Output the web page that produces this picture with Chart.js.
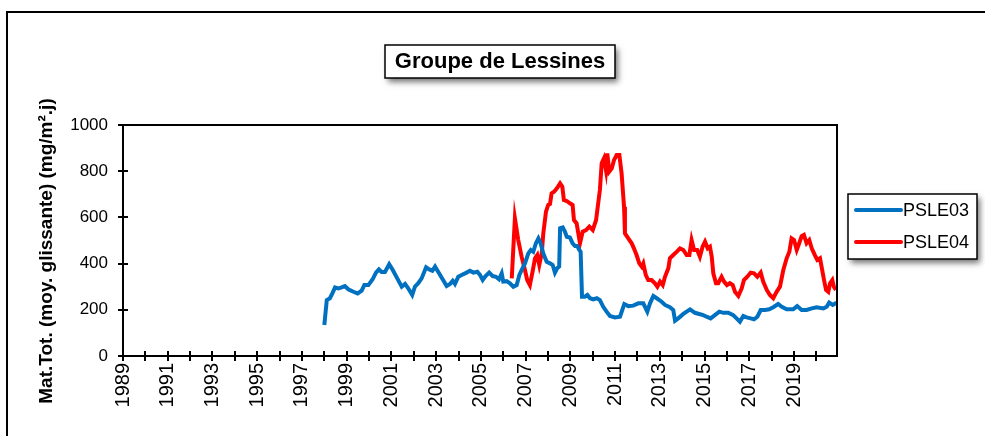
<!DOCTYPE html>
<html>
<head>
<meta charset="utf-8">
<title>Groupe de Lessines</title>
<script src="https://cdn.jsdelivr.net/npm/chart.js@4.4.0/dist/chart.umd.min.js"></script>
<style>
  html, body { margin: 0; padding: 0; background: #fff; }
</style>
</head>
<body>
<canvas id="chart" width="985" height="436"></canvas>
<script>
// Moyennes glissantes des retombées (mg/m².j), dates en années décimales
const pslE03Dates = [
  1998.00, 1998.11, 1998.25, 1998.36, 1998.48, 1998.62, 1998.78, 1998.92, 1999.07, 1999.30,
  1999.49, 1999.67, 1999.79, 1999.97, 2000.16, 2000.31, 2000.44, 2000.56, 2000.71, 2000.90,
  2001.06, 2001.26, 2001.46, 2001.61, 2001.75, 2001.93, 2002.05, 2002.20, 2002.35, 2002.55,
  2002.69, 2002.83, 2002.95, 2003.13, 2003.29, 2003.47, 2003.62, 2003.74, 2003.84, 2003.99,
  2004.14, 2004.36, 2004.51, 2004.66, 2004.84, 2004.96, 2005.08, 2005.21, 2005.37, 2005.53,
  2005.67, 2005.81, 2005.93, 2006.00, 2006.15, 2006.30, 2006.45, 2006.60, 2006.72, 2006.82,
  2006.97, 2007.12, 2007.23, 2007.34, 2007.46, 2007.57, 2007.67, 2007.79, 2007.94, 2008.09,
  2008.21, 2008.31, 2008.41, 2008.50, 2008.54, 2008.66, 2008.76, 2008.84, 2008.98, 2009.10,
  2009.21, 2009.31, 2009.40, 2009.46, 2009.52, 2009.65, 2009.76, 2009.88, 2010.02, 2010.18,
  2010.32, 2010.47, 2010.62, 2010.77, 2010.99, 2011.22, 2011.41, 2011.59, 2011.81, 2012.04,
  2012.26, 2012.44, 2012.56, 2012.71, 2012.86, 2013.08, 2013.23, 2013.45, 2013.60, 2013.68,
  2013.82, 2014.05, 2014.35, 2014.57, 2014.76, 2014.94, 2015.09, 2015.27, 2015.46, 2015.66,
  2015.84, 2016.06, 2016.28, 2016.43, 2016.58, 2016.73, 2016.88, 2017.06, 2017.21, 2017.36,
  2017.51, 2017.70, 2017.89, 2018.07, 2018.29, 2018.45, 2018.67, 2018.96, 2019.14, 2019.34,
  2019.56, 2019.79, 2020.01, 2020.31, 2020.46, 2020.57, 2020.73, 2020.90
];
const pslE03Values = [
  134, 242, 250, 271, 297, 293, 297, 303, 289, 278,
  271, 283, 307, 307, 332, 361, 375, 364, 364, 397,
  372, 336, 300, 312, 293, 264, 300, 315, 336, 384,
  375, 369, 387, 358, 332, 303, 312, 326, 312, 343,
  351, 361, 369, 361, 365, 351, 329, 346, 361, 346,
  343, 332, 358, 322, 324, 315, 300, 307, 351, 372,
  401, 444, 459, 451, 488, 509, 488, 444, 408, 401,
  394, 361, 380, 387, 553, 557, 538, 516, 513, 488,
  476, 476, 459, 451, 257, 257, 264, 250, 245, 250,
  242, 213, 192, 173, 167, 170, 225, 216, 218, 228,
  228, 192, 228, 260, 250, 235, 221, 211, 199, 153,
  163, 182, 202, 187, 182, 177, 170, 163, 177, 192,
  187, 187, 177, 163, 148, 173, 167, 163, 159, 170,
  199, 199, 202, 211, 225, 213, 202, 202, 216, 199,
  199, 206, 211, 206, 213, 231, 221, 231
];

const pslE04Dates = [
  2006.38, 2006.52, 2006.67, 2006.82, 2006.97, 2007.07, 2007.19, 2007.31, 2007.42, 2007.52,
  2007.61, 2007.72, 2007.79, 2007.91, 2008.01, 2008.09, 2008.16, 2008.27, 2008.39, 2008.54,
  2008.64, 2008.71, 2008.84, 2008.98, 2009.10, 2009.16, 2009.28, 2009.43, 2009.55, 2009.70,
  2009.85, 2010.00, 2010.15, 2010.32, 2010.40, 2010.50, 2010.59, 2010.65, 2010.74, 2010.85,
  2010.95, 2011.07, 2011.19, 2011.29, 2011.40, 2011.44, 2011.59, 2011.74, 2011.84, 2011.96,
  2012.08, 2012.19, 2012.26, 2012.37, 2012.48, 2012.63, 2012.78, 2012.89, 2013.01, 2013.13,
  2013.23, 2013.38, 2013.45, 2013.60, 2013.75, 2013.90, 2014.05, 2014.20, 2014.32, 2014.42,
  2014.53, 2014.67, 2014.79, 2014.91, 2015.02, 2015.14, 2015.24, 2015.32, 2015.39, 2015.51,
  2015.61, 2015.76, 2015.87, 2016.00, 2016.13, 2016.26, 2016.36, 2016.51, 2016.66, 2016.76,
  2016.91, 2017.06, 2017.21, 2017.36, 2017.51, 2017.62, 2017.78, 2017.92, 2018.07, 2018.22,
  2018.37, 2018.52, 2018.67, 2018.79, 2018.89, 2019.00, 2019.12, 2019.23, 2019.34, 2019.44,
  2019.56, 2019.68, 2019.79, 2019.93, 2020.04, 2020.16, 2020.23, 2020.34, 2020.43, 2020.53,
  2020.61, 2020.71, 2020.78, 2020.87
];
const pslE04Values = [
  336, 596, 502, 430, 372, 329, 307, 365, 423, 437,
  394, 444, 531, 625, 654, 658, 704, 711, 725, 747,
  733, 675, 671, 661, 654, 589, 574, 488, 538, 545,
  560, 545, 589, 719, 834, 855, 805, 877, 798, 812,
  848, 870, 870, 791, 646, 531, 509, 488, 466, 437,
  401, 387, 401, 351, 329, 329, 315, 300, 322, 307,
  343, 380, 423, 437, 451, 466, 459, 437, 437, 502,
  459, 459, 430, 473, 495, 466, 473, 430, 358, 315,
  315, 343, 322, 307, 315, 307, 278, 260, 293, 329,
  343, 361, 358, 343, 361, 322, 286, 264, 250, 278,
  300, 372, 423, 451, 509, 502, 459, 488, 519, 524,
  488, 502, 466, 437, 416, 423, 387, 329, 286, 278,
  315, 329, 300, 286
];

const seriesNames = ['PSLE03', 'PSLE04'];
const seriesColors = ['#0070C0', '#FF0000'];
const yTickValues = [0, 200, 400, 600, 800, 1000];
const xFirstYear = 1989;
const xLastYear = 2020.92;

const titleText = 'Groupe de Lessines';
const yAxisTitle = 'Mat.Tot. (moy. glissante) (mg/m².j)';
const FONT = "'Liberation Sans', Arial, sans-serif";

function toPoints(dates, values) {
  return dates.map((d, i) => ({ x: d, y: values[i] }));
}

function shadowBox(ctx, x, y, w, h) {
  ctx.save();
  ctx.shadowColor = 'rgba(0,0,0,0.55)';
  ctx.shadowBlur = 6;
  ctx.shadowOffsetX = 3;
  ctx.shadowOffsetY = 4;
  ctx.fillStyle = '#fff';
  ctx.fillRect(x, y, w, h);
  ctx.restore();
  ctx.save();
  ctx.strokeStyle = '#000';
  ctx.lineWidth = 1.5;
  ctx.strokeRect(x, y, w, h);
  ctx.restore();
}

// cadre, ticks en croix, titre et légende encadrés
const decorations = {
  id: 'decorations',
  afterDraw(chart) {
    const ctx = chart.ctx;
    const area = chart.chartArea;
    const xs = chart.scales.x;
    const ys = chart.scales.y;

    ctx.save();
    ctx.strokeStyle = '#000';
    ctx.lineWidth = 2;
    // cadre extérieur
    ctx.beginPath();
    ctx.moveTo(7, 436);
    ctx.lineTo(7, 12);
    ctx.lineTo(985, 12);
    ctx.stroke();
    // bord de la zone de tracé
    ctx.strokeRect(area.left, area.top, area.right - area.left, area.bottom - area.top);
    // graduations
    ctx.beginPath();
    ys.ticks.forEach(t => {
      const y = Math.round(ys.getPixelForValue(t.value));
      ctx.moveTo(area.left - 5, y);
      ctx.lineTo(area.left + 5, y);
    });
    xs.ticks.forEach(t => {
      if (!Number.isInteger(t.value)) return;
      const x = Math.round(xs.getPixelForValue(t.value));
      ctx.moveTo(x, area.bottom - 5);
      ctx.lineTo(x, area.bottom + 5);
    });
    ctx.stroke();
    ctx.restore();

    // titre de l'axe Y
    ctx.save();
    ctx.translate(47, 251);
    ctx.rotate(-Math.PI / 2);
    ctx.font = 'bold 19px ' + FONT;
    ctx.fillStyle = '#000';
    ctx.textAlign = 'center';
    ctx.textBaseline = 'middle';
    ctx.fillText(yAxisTitle, 0, 0);
    ctx.restore();

    // titre
    shadowBox(ctx, 385, 45, 230, 33);
    ctx.save();
    ctx.font = 'bold 22px ' + FONT;
    ctx.fillStyle = '#000';
    ctx.textAlign = 'center';
    ctx.textBaseline = 'middle';
    ctx.fillText(titleText, 500, 62);
    ctx.restore();

    // légende
    shadowBox(ctx, 848, 194, 129, 65);
    ctx.save();
    ctx.font = '18px ' + FONT;
    ctx.textBaseline = 'middle';
    ctx.lineCap = 'round';
    chart.data.datasets.forEach((ds, i) => {
      const y = 210 + i * 32;
      ctx.strokeStyle = ds.borderColor;
      ctx.lineWidth = 4;
      ctx.beginPath();
      ctx.moveTo(856, y);
      ctx.lineTo(901, y);
      ctx.stroke();
      ctx.fillStyle = '#000';
      ctx.fillText(ds.label, 903, y + 1);
    });
    ctx.restore();
  }
};

new Chart(document.getElementById('chart'), {
  type: 'line',
  data: {
    datasets: [
      {
        label: seriesNames[0],
        data: toPoints(pslE03Dates, pslE03Values),
        borderColor: seriesColors[0],
        backgroundColor: seriesColors[0],
        borderWidth: 4,
        pointRadius: 0,
        tension: 0
      },
      {
        label: seriesNames[1],
        data: toPoints(pslE04Dates, pslE04Values),
        borderColor: seriesColors[1],
        backgroundColor: seriesColors[1],
        borderWidth: 4,
        pointRadius: 0,
        tension: 0
      }
    ]
  },
  options: {
    responsive: false,
    animation: false,
    devicePixelRatio: 1,
    layout: { padding: { top: 125, right: 148, bottom: 0, left: 0 } },
    plugins: {
      legend: { display: false },
      title: { display: false },
      tooltip: { enabled: false }
    },
    scales: {
      x: {
        type: 'linear',
        min: xFirstYear,
        max: xLastYear,
        grid: { display: false, drawTicks: false },
        border: { display: true, color: '#000', width: 2 },
        ticks: {
          stepSize: 1,
          includeBounds: false,
          autoSkip: false,
          maxRotation: 90,
          minRotation: 90,
          padding: 7,
          color: '#000',
          font: { family: FONT, size: 20 },
          callback: v => (Number.isInteger(v) && v % 2 === 1) ? String(v) : ''
        },
        afterFit: s => { s.height = 80; }
      },
      y: {
        min: 0,
        max: 1000,
        grid: { display: false, drawTicks: false },
        border: { display: true, color: '#000', width: 2 },
        afterBuildTicks: s => { s.ticks = yTickValues.map(v => ({ value: v })); },
        ticks: {
          padding: 15,
          color: '#000',
          font: { family: FONT, size: 17 },
          callback: v => String(v)
        },
        afterFit: s => { s.width = 123; }
      }
    }
  },
  plugins: [decorations]
});
</script>
</body>
</html>
